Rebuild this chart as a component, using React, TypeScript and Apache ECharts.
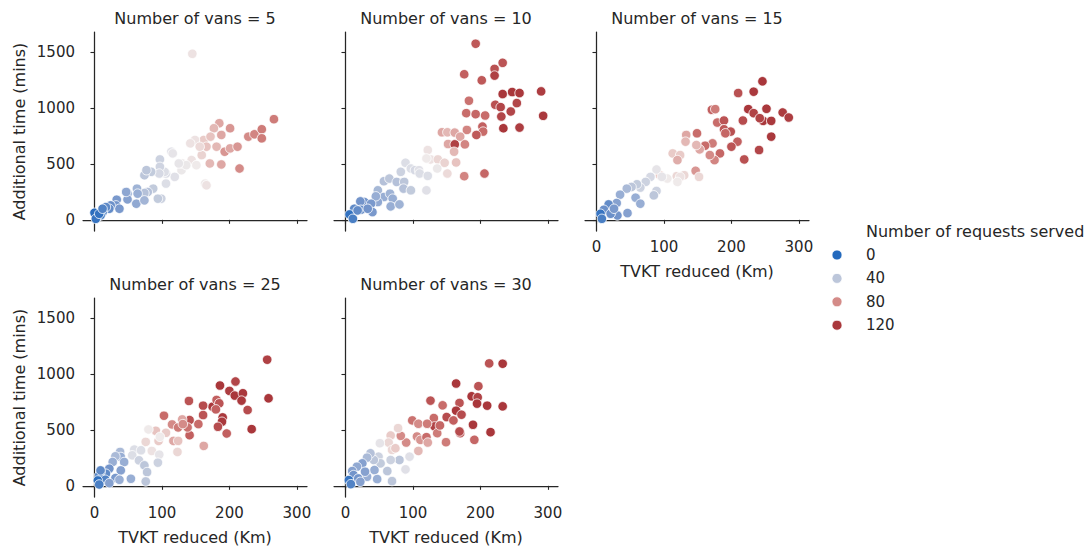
import React, { useEffect, useRef } from "react";
import * as echarts from "echarts";

const FONT = "'DejaVu Sans', 'Liberation Sans', sans-serif";
const INK = "#262626";

// facet titles
const vansLevels = [5, 10, 15, 25, 30];
const xTicks = [0, 100, 200, 300];
const yTicks = [0, 500, 1000, 1500];
const legendValues = [0, 40, 80, 120];

// [TVKT reduced (Km), Additional time (mins), Number of requests served]
const vans5 = [
  [145,1485,62],[266,900,85],[228,744,80],[237,765,82],[248,810,85],[248,729,85],
  [185,864,75],[177,819,72],[201,819,78],[188,759,75],
  [162,714,68],[172,744,70],[181,654,72],[193,609,78],[201,639,75],[212,654,78],[215,459,80],[188,495,75],[171,504,72],[166,654,70],[159,579,66],[149,714,62],[142,684,62],[156,654,64],
  [164,324,60],[166,309,62],
  [129,444,58],[130,504,60],[144,534,62],[151,489,60],[136,489,58],
  [114,609,52],[116,594,55],[125,504,56],[119,384,52],[106,414,50],[104,429,50],[106,324,50],[97,540,45],[97,474,46],[96,414,48],[99,189,45],[94,189,42],
  [84,429,42],[74,399,40],[77,444,40],[87,279,42],[79,249,38],[74,240,38],[63,279,32],[64,234,30],[62,144,28],[74,174,33],[49,234,28],[49,183,25],[47,249,27],[33,180,22],[32,129,20],[37,99,22],[24,129,18],[22,99,16],[17,114,15],[12,69,12],[9,39,8],[4,24,6],[0,63,2],[2,9,5],[7,54,4],[12,99,12]
];

const vans10 = [
  [193,1575,98],[233,1404,100],[221,1350,102],[221,1290,112],[176,1302,95],[202,1248,98],
  [233,1125,120],[247,1143,120],[258,1134,118],[290,1149,115],[293,930,118],
  [222,1029,102],[230,1008,108],[254,1044,108],[245,969,108],[231,924,108],[234,819,120],[258,825,115],
  [183,1065,88],[179,954,90],[193,945,92],[207,933,90],[180,804,82],[203,834,95],[204,789,90],[194,759,98],
  [143,783,75],[151,783,72],[162,780,75],[170,744,75],[152,678,75],[162,675,112],[177,675,82],[161,609,72],[164,513,70],[176,390,82],[206,414,92],
  [122,624,62],[126,540,62],[120,549,60],[137,540,65],[136,459,58],[147,510,66],[151,414,64],
  [89,510,50],[97,459,50],[103,444,48],[109,444,52],[110,414,50],[122,393,50],[120,264,52],[82,429,45],
  [57,345,38],[65,369,40],[76,339,38],[87,339,40],[86,279,38],[97,264,42],[48,264,34],[57,204,30],[66,234,32],[70,189,30],[67,120,30],[80,138,32],[48,159,28],[45,210,30],
  [28,159,20],[22,165,20],[13,99,15],[23,90,18],[38,144,22],[40,69,22],[6,48,4],[11,9,10],[18,84,16],[33,99,20]
];

const vans15 = [
  [246,1239,120],[233,1146,118],[210,1134,102],
  [225,990,120],[252,993,118],[233,954,110],[247,885,120],[259,885,118],[242,909,110],[276,960,116],[285,915,115],[259,744,118],
  [171,984,95],[176,990,85],[179,870,90],[189,888,100],[217,888,105],[189,810,98],[199,789,102],[191,774,92],[209,699,95],[200,654,100],[241,624,108],[219,540,102],[183,594,92],[175,534,82],[168,579,80],[172,684,85],[161,663,90],[149,774,90],[153,630,75],[148,669,72],[133,759,75],[132,699,72],
  [113,594,68],[124,579,68],[120,534,74],[147,438,78],[152,384,65],[94,399,70],[119,390,65],[130,399,65],[124,384,62],[105,369,60],[120,339,60],[89,450,55],[97,384,55],
  [80,384,48],[73,339,45],[89,258,45],[85,219,40],[65,288,45],[60,318,42],[52,294,40],[45,279,35],[35,225,30],[30,150,25],[58,198,30],[65,144,30],[46,60,25],[31,39,20],[18,138,16],[11,90,18],[21,54,18],[6,54,5],[8,9,10],[26,99,22]
];

const vans25 = [
  [256,1128,112],[258,783,120],
  [209,933,108],[186,897,120],[200,849,115],[208,807,120],[220,828,118],[218,762,118],[227,678,105],[233,507,120],[190,612,118],[189,573,118],[183,528,105],[196,468,95],[175,708,120],[181,768,95],[185,738,100],[180,684,95],[161,717,105],[161,633,100],[154,552,90],[162,357,75],[140,759,100],[141,588,102],[141,453,95],[138,522,88],
  [103,627,90],[115,549,80],[130,594,75],[124,522,85],[131,552,80],[117,402,75],[124,402,70],[123,303,65],
  [91,492,70],[95,402,68],[106,474,68],[80,504,60],[76,393,65],[85,312,62],[96,279,55],[94,207,45],[97,438,60],
  [59,324,50],[56,273,50],[69,318,50],[66,228,45],[74,183,40],[78,123,40],[76,39,40],[54,63,30],
  [38,303,35],[39,258,30],[31,264,35],[27,213,30],[44,213,30],[39,138,25],[31,69,22],[37,54,30],[22,153,20],[17,108,15],[9,123,15],[7,93,12],[16,54,12],[5,48,3],[7,12,10],[22,24,25],[9,138,15]
];

const vans30 = [
  [213,1095,100],[233,1092,120],
  [164,915,120],[197,891,100],[187,801,120],[196,792,110],[195,735,120],[210,717,120],[233,711,120],[189,546,120],[215,480,120],[191,411,92],[170,471,100],
  [126,762,100],[144,720,90],[169,741,100],[164,672,120],[172,636,105],[150,615,105],[160,585,95],[131,606,90],[132,531,110],[169,486,105],[136,471,85],[140,540,92],[149,390,85],
  [99,585,88],[108,555,80],[121,555,85],[106,441,80],[111,411,78],[120,435,90],[122,387,75],[108,312,72],[90,387,80],[82,447,80],[78,516,65],[67,450,68],[64,387,65],[69,321,65],[74,336,68],[51,381,55],
  [80,231,40],[89,147,52],[95,261,52],[67,231,45],[62,132,40],[69,42,40],[49,261,45],[52,201,42],[42,231,40],[37,291,38],[32,252,35],[43,141,30],[47,60,30],[32,81,30],[25,201,25],[17,171,28],[10,132,25],[12,96,20],[19,66,20],[5,51,5],[8,15,12],[22,36,25],[29,126,25]
];

const facetData = [vans5, vans10, vans15, vans25, vans30];

// approximate seaborn "vlag" hue mapping (value -> colour)
const hueStops: [number, string][] = [
  [0, "#2369bd"], [10, "#4a7fc4"], [20, "#7394ca"], [30, "#98aed4"], [40, "#bcc6da"],
  [50, "#dcdee6"], [60, "#efeaea"], [70, "#e7c3c0"], [80, "#d48b88"], [90, "#c86c6a"],
  [100, "#bb5455"], [110, "#b04346"], [120, "#a9373b"],
];

function hex(c: string) {
  return [1, 3, 5].map((i) => parseInt(c.slice(i, i + 2), 16));
}
function hueColor(v: number) {
  if (v <= hueStops[0][0]) return hueStops[0][1];
  for (let i = 1; i < hueStops.length; i++) {
    const [v1, c1] = hueStops[i];
    const [v0, c0] = hueStops[i - 1];
    if (v <= v1) {
      const t = (v - v0) / (v1 - v0);
      const a = hex(c0), b = hex(c1);
      const m = a.map((x, k) => Math.round(x + (b[k] - x) * t));
      return `rgb(${m[0]},${m[1]},${m[2]})`;
    }
  }
  return hueStops[hueStops.length - 1][1];
}

const colLeft = [83, 334, 585];
const rowTop = [32, 298];
const PW = 224;
const PH = 199;

export default function App() {
  const ref = useRef<HTMLDivElement>(null);
  useEffect(() => {
    document.body.style.margin = "0";
    const chart = echarts.init(ref.current!, undefined, { renderer: "svg" });
    const grids: any[] = [];
    const xAxes: any[] = [];
    const yAxes: any[] = [];
    const series: any[] = [];
    const graphics: any[] = [];
    facetData.forEach((data, i) => {
      const col = i < 3 ? i : i - 3;
      const row = i < 3 ? 0 : 1;
      const left = colLeft[col];
      const top = rowTop[row];
      grids.push({ left, top, width: PW, height: PH, containLabel: false });
      const showXLabels = i >= 2;
      const showYLabels = col === 0;
      const axisCommon = {
        axisLine: { show: true, lineStyle: { color: INK, width: 1.25 } },
        axisTick: { show: true, length: 4, lineStyle: { color: INK, width: 1.1 } },
        splitLine: { show: false },
      };
      xAxes.push({
        type: "value",
        gridIndex: i,
        min: -17,
        max: 315,
        ...axisCommon,
        axisTick: { ...axisCommon.axisTick, customValues: xTicks },
        axisLabel: {
          show: showXLabels,
          customValues: xTicks,
          formatter: (v: number) => String(v),
          color: INK,
          fontFamily: FONT,
          fontSize: 15,
          margin: 8,
        },
        name: showXLabels ? "TVKT reduced (Km)" : "",
        nameLocation: "middle",
        nameGap: 32,
        nameTextStyle: { color: INK, fontFamily: FONT, fontSize: 16 },
      });
      yAxes.push({
        type: "value",
        gridIndex: i,
        min: -100,
        max: 1680,
        ...axisCommon,
        axisTick: { ...axisCommon.axisTick, customValues: yTicks },
        axisLabel: {
          show: showYLabels,
          customValues: yTicks,
          formatter: (v: number) => String(v),
          color: INK,
          fontFamily: FONT,
          fontSize: 15,
          margin: 8,
        },
        name: showYLabels ? "Additional time (mins)" : "",
        nameLocation: "middle",
        nameGap: 56,
        nameRotate: 90,
        nameTextStyle: { color: INK, fontFamily: FONT, fontSize: 16 },
      });
      series.push({
        type: "scatter",
        xAxisIndex: i,
        yAxisIndex: i,
        symbol: "circle",
        symbolSize: 9.5,
        data: data.map((d) => ({ value: d })),
        itemStyle: {
          color: (p: any) => hueColor(p.value[2]),
          borderColor: "#ffffff",
          borderWidth: 0.8,
          opacity: 1,
        },
      });
      graphics.push({
        type: "text",
        x: left + PW / 2,
        y: top - 14,
        style: {
          text: `Number of vans = ${vansLevels[i]}`,
          fill: INK,
          font: `16px ${FONT}`,
          textAlign: "center",
          textVerticalAlign: "middle",
        },
      });
    });
    // hue legend
    graphics.push({
      type: "text",
      x: 866,
      y: 231,
      style: {
        text: "Number of requests served",
        fill: INK,
        font: `16px ${FONT}`,
        textAlign: "left",
        textVerticalAlign: "middle",
      },
    });
    legendValues.forEach((v, k) => {
      const y = 255 + k * 23.4;
      graphics.push({
        type: "circle",
        shape: { cx: 837, cy: y, r: 5 },
        style: { fill: hueColor(v), stroke: "#ffffff", lineWidth: 0.8 },
      });
      graphics.push({
        type: "text",
        x: 866,
        y,
        style: {
          text: String(v),
          fill: INK,
          font: `15px ${FONT}`,
          textAlign: "left",
          textVerticalAlign: "middle",
        },
      });
    });

    chart.setOption({
      animation: false,
      backgroundColor: "#ffffff",
      grid: grids,
      xAxis: xAxes,
      yAxis: yAxes,
      series,
      graphic: graphics,
    });
    return () => chart.dispose();
  }, []);
  return <div ref={ref} style={{ width: 1088, height: 549 }} />;
}
